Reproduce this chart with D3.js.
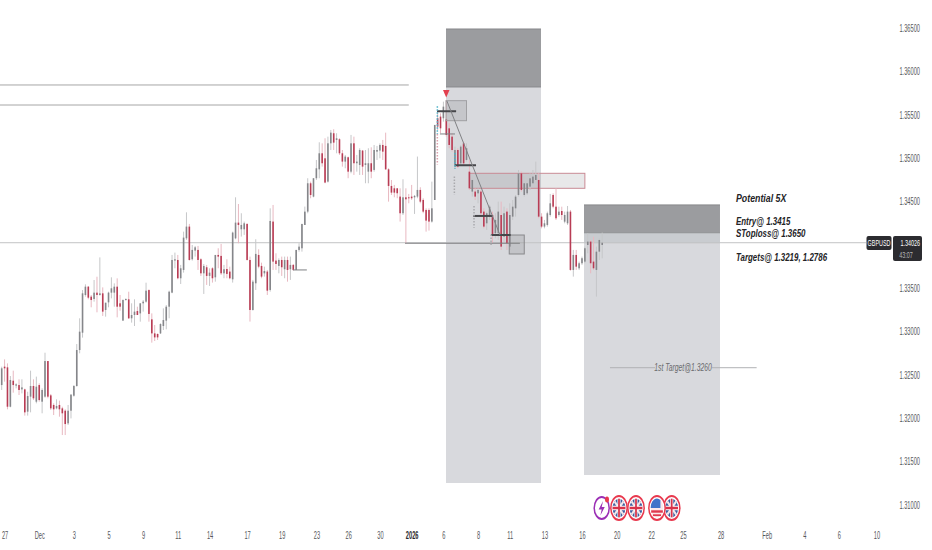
<!DOCTYPE html>
<html>
<head>
<meta charset="utf-8">
<script src="https://cdn.jsdelivr.net/npm/d3@7"></script>
<style>
  html, body { margin: 0; padding: 0; background: #fff; }
  svg { display: block; }
  text { font-family: "Liberation Sans", sans-serif; }
</style>
</head>
<body>
<div id="chart"></div>
<script>
// GBPUSD candles (one bar per array slot)
const opens = [
1.32384,1.32596,1.32588,1.32134,1.32434,1.32377,1.32384,1.32334,1.32334,1.32077,
1.32250,1.32373,1.32192,1.32384,1.32192,1.32250,1.32661,1.32265,1.32154,1.32115,
1.32154,1.32115,1.32088,1.31942,1.32088,1.32261,1.32373,1.32788,1.32988,1.33423,
1.33519,1.33404,1.33377,1.33450,1.33423,1.33442,1.33250,1.33338,1.33450,1.33450,
1.33519,1.33327,1.33127,1.33365,1.33373,1.33154,1.33192,1.33238,1.33211,1.33327,
1.33346,1.33480,1.33142,1.32980,1.32973,1.32980,1.33065,1.33127,1.33288,1.33450,
1.33820,1.33827,1.33616,1.33712,1.34077,1.34212,1.33835,1.33935,1.33943,1.33835,
1.33673,1.33743,1.33643,1.33731,1.33627,1.33885,1.33874,1.33673,1.33723,1.33693,
1.33604,1.34077,1.34258,1.34181,1.34181,1.34243,1.33827,1.33250,1.33558,1.33885,
1.33758,1.33673,1.33693,1.33481,1.34270,1.33820,1.33758,1.33827,1.33720,1.33827,
1.33720,1.33770,1.33712,1.33943,1.33962,1.34231,1.34385,1.34712,1.34558,1.34770,
1.34873,1.35058,1.35000,1.34731,1.35173,1.35289,1.35212,1.35220,1.35058,1.34962,
1.35012,1.34846,1.35173,1.34943,1.34923,1.35089,1.34923,1.34846,1.34943,1.34866,
1.35077,1.35089,1.35154,1.35143,1.34873,1.34681,1.34654,1.34654,1.34558,1.34366,
1.34550,1.34550,1.34558,1.34550,1.34558,1.34635,1.34520,1.34404,1.34404,1.34270,
1.34519,1.35462,1.35481,1.35462,1.35450,1.35346,1.35250,1.34904,1.35096,1.34942,
1.35173,1.34981,1.34846,1.34616,1.34616,1.34596,1.34616,1.34385,1.34250,1.34327,
1.34346,1.34135,1.34135,1.34346,1.34096,1.34385,1.33981,1.34327,1.34423,1.34577,
1.34827,1.34577,1.34596,1.34673,1.34712,1.34750,1.34750,1.34327,1.34212,1.34231,
1.34346,1.34577,1.34442,1.34346,1.34392,1.34269,1.34250,1.34385,1.33712,1.33885,
1.33731,1.33789,1.33808,1.34000,1.34039,1.33808,1.33712,1.33923,1.34000];

const closes = [
1.32577,1.32577,1.32134,1.32442,1.32384,1.32392,1.32327,1.32357,1.32069,1.32257,
1.32373,1.32231,1.32365,1.32211,1.32327,1.32661,1.32250,1.32115,1.32104,1.32142,
1.32104,1.32058,1.31934,1.32088,1.32273,1.32373,1.32788,1.33000,1.33442,1.33519,
1.33392,1.33365,1.33450,1.33423,1.33442,1.33231,1.33334,1.33450,1.33500,1.33519,
1.33288,1.33288,1.33365,1.33377,1.33154,1.33192,1.33231,1.33192,1.33327,1.33346,
1.33473,1.33204,1.32980,1.32934,1.32934,1.33088,1.33134,1.33288,1.33461,1.33827,
1.33835,1.33616,1.33731,1.34085,1.34212,1.33827,1.33943,1.33973,1.33827,1.33673,
1.33758,1.33643,1.33681,1.33616,1.33885,1.33866,1.33673,1.33720,1.33666,1.33616,
1.34143,1.34258,1.34231,1.34231,1.34250,1.33827,1.33250,1.33577,1.33897,1.33750,
1.33635,1.33700,1.33473,1.34277,1.33808,1.33781,1.33827,1.33743,1.33827,1.33712,
1.33770,1.33712,1.33943,1.33981,1.34243,1.34385,1.34712,1.34577,1.34770,1.34885,
1.35058,1.34943,1.34720,1.35173,1.35296,1.35181,1.35231,1.35058,1.34962,1.35020,
1.34846,1.35173,1.34943,1.34962,1.35096,1.34904,1.34943,1.34943,1.34846,1.35096,
1.35096,1.35154,1.35077,1.34873,1.34681,1.34604,1.34604,1.34597,1.34366,1.34550,
1.34527,1.34539,1.34539,1.34566,1.34635,1.34500,1.34385,1.34281,1.34270,1.34423,
1.35385,1.35366,1.35346,1.35596,1.35269,1.35154,1.35096,1.35096,1.34904,1.35135,
1.34942,1.35116,1.34654,1.34750,1.34558,1.34635,1.34366,1.34212,1.34366,1.34442,
1.34116,1.34289,1.34385,1.33981,1.34366,1.34019,1.34346,1.34442,1.34558,1.34827,
1.34635,1.34712,1.34712,1.34769,1.34789,1.34808,1.34327,1.34212,1.34250,1.34366,
1.34481,1.34442,1.34308,1.34385,1.34346,1.34346,1.34385,1.33712,1.33885,1.33750,
1.33789,1.33847,1.33962,1.34039,1.33789,1.33731,1.33923,1.34058,1.34026];

const highs = [
1.32596,1.32680,1.32634,1.32488,1.32550,1.32404,1.32450,1.32450,1.32342,1.32307,
1.32550,1.32450,1.32481,1.32404,1.32346,1.32757,1.32661,1.32281,1.32173,1.32219,
1.32204,1.32134,1.32104,1.32154,1.32281,1.32384,1.32857,1.33154,1.33480,1.33546,
1.33527,1.33423,1.33596,1.33634,1.33857,1.33511,1.33334,1.33461,1.33627,1.33557,
1.33615,1.33423,1.33373,1.33384,1.33461,1.33327,1.33373,1.33288,1.33327,1.33365,
1.33565,1.33488,1.33211,1.33077,1.32980,1.33096,1.33269,1.33307,1.33473,1.33885,
1.33912,1.33885,1.33770,1.34154,1.34377,1.34243,1.34000,1.33989,1.33989,1.33847,
1.33781,1.33770,1.33731,1.33743,1.33885,1.33962,1.34012,1.33770,1.33835,1.33750,
1.34154,1.34550,1.34473,1.34366,1.34270,1.34250,1.33866,1.33597,1.34066,1.33950,
1.33796,1.33750,1.33712,1.34423,1.34462,1.33904,1.33846,1.33866,1.33866,1.33866,
1.33866,1.33781,1.33943,1.34020,1.34243,1.34443,1.34770,1.34731,1.34770,1.34981,
1.35185,1.35173,1.35231,1.35250,1.35327,1.35335,1.35289,1.35231,1.35096,1.35039,
1.35020,1.35270,1.35250,1.35039,1.35116,1.35096,1.35096,1.35116,1.35127,1.35154,
1.35143,1.35173,1.35212,1.35296,1.34885,1.34750,1.34693,1.34654,1.34654,1.34758,
1.34654,1.34589,1.34693,1.34577,1.35020,1.34666,1.34539,1.34423,1.34423,1.34731,
1.35385,1.35558,1.35519,1.35654,1.35673,1.35404,1.35289,1.35135,1.35116,1.35154,
1.35192,1.35173,1.34981,1.34789,1.34654,1.34654,1.34635,1.34423,1.34385,1.34462,
1.34385,1.34366,1.34500,1.34500,1.34442,1.34423,1.34481,1.34519,1.34577,1.34865,
1.34846,1.34789,1.34769,1.34827,1.34865,1.34962,1.34827,1.34366,1.34289,1.34385,
1.34589,1.34596,1.34654,1.34442,1.34442,1.34385,1.34450,1.34404,1.33943,1.33943,
1.33808,1.33866,1.33981,1.34135,1.34058,1.34096,1.33981,1.34077,1.34143];

const lows = [
1.32327,1.32423,1.32104,1.32127,1.32296,1.32346,1.32269,1.32288,1.32031,1.32031,
1.32069,1.32211,1.32173,1.32192,1.32058,1.32238,1.32231,1.32096,1.32038,1.32104,
1.32019,1.31807,1.31807,1.31923,1.31999,1.32250,1.32365,1.32750,1.32931,1.33404,
1.33373,1.33281,1.33346,1.33223,1.33415,1.33181,1.33173,1.33281,1.33384,1.33288,
1.33165,1.33242,1.33127,1.33357,1.33146,1.33104,1.33065,1.33192,1.33115,1.33231,
1.33334,1.33115,1.32873,1.32892,1.32904,1.32973,1.33019,1.33027,1.33154,1.33443,
1.33731,1.33604,1.33550,1.33681,1.34058,1.33820,1.33820,1.33866,1.33712,1.33643,
1.33435,1.33539,1.33527,1.33566,1.33577,1.33731,1.33654,1.33616,1.33616,1.33604,
1.33566,1.34066,1.34020,1.34097,1.34116,1.33820,1.33116,1.33243,1.33481,1.33731,
1.33616,1.33635,1.33423,1.33462,1.33712,1.33712,1.33673,1.33643,1.33616,1.33577,
1.33597,1.33704,1.33712,1.33923,1.33923,1.34231,1.34366,1.34539,1.34550,1.34750,
1.34770,1.34904,1.34712,1.34720,1.35096,1.35096,1.35058,1.35039,1.34904,1.34885,
1.34770,1.34827,1.34808,1.34846,1.34808,1.34808,1.34712,1.34712,1.34770,1.34846,
1.34981,1.35000,1.34981,1.34866,1.34500,1.34577,1.34550,1.34539,1.34270,1.34346,
1.34020,1.34481,1.34520,1.34358,1.34539,1.34481,1.34366,1.34154,1.34166,1.34258,
1.34519,1.35327,1.35289,1.35423,1.35250,1.35116,1.35077,1.34885,1.34885,1.34923,
1.34923,1.34962,1.34635,1.34558,1.34519,1.34481,1.34327,1.34192,1.34173,1.34289,
1.34019,1.34077,1.34058,1.33942,1.34019,1.33942,1.33942,1.34289,1.34327,1.34558,
1.34616,1.34558,1.34577,1.34635,1.34673,1.34712,1.34308,1.34192,1.34192,1.34212,
1.34327,1.34423,1.34289,1.34327,1.34289,1.34250,1.34231,1.33704,1.33635,1.33712,
1.33712,1.33770,1.33789,1.33904,1.33673,1.33712,1.33404,1.33827,1.33846];

// axis labels
const priceTicks = [1.31,1.315,1.32,1.325,1.33,1.335,1.345,1.35,1.355,1.36,1.365];
const timeTickBars = [1,13,25,37,49,61,72,85,97,109,120,131,142,153,165,176,188,201,213,225,236,249,265,278,290,303];
const timeTickLabels = ['27','Dec','3','5','9','11','14','17','19','23','26','30','2026','6','8','11','13','16','20','22','25','28','Feb','4','6','10'];

// drawn objects, as [barFrom, barTo, priceTop, priceBottom]
const stopZones = [[153.9,186.8,1.36492,1.35823],[201.7,248.8,1.34462,1.34135]];
const targetZones = [[153.9,186.8,1.35823,1.31254],[201.7,248.8,1.34135,1.31346]];
const entryBand = [201.7,248.8,1.34135,1.3402];
const boxA = [153.9,161,1.35665,1.35434];
const boxB = [175.8,181,1.34115,1.33896];
const boxC = [162,202,1.34827,1.34654];
// [barFrom, barTo, price]
const topLevels = [[-1,141,1.35846],[-1,141,1.35615]];
const heavyLevels = [[150.8,157.4,1.35543],[157,164.3,1.3492],[163.3,170.1,1.34335],[169.5,176.3,1.34115]];
const thinLevels = [[139.7,179.5,1.3402],[100.9,105.7,1.33712],[151.8,157,1.35281]];
const targetLevels = [[210.7,226.3,1.32584],[246,261.5,1.32584]];
// [bar, priceTop, priceBottom, colour]
const dottedMarks = [
  [150.9,1.35600,1.35280,'#4fb3c8'],
  [150.9,1.35280,1.34930,'#d9a0ac'],
  [157,1.35060,1.34880,'#4fb3c8'],
  [156.8,1.34790,1.34580,'#a9a9ad'],
  [163.6,1.34450,1.34200,'#a9a9ad'],
  [169.5,1.34120,1.34000,'#a9a9ad']
];
const lastPrice = 1.34026;

const width = 932;
const height = 550;
// the reference text is narrow, squeeze the glyphs sideways
const narrow = 'scale(0.57,1)';

const x = d3.scaleLinear().domain([0, 300]).range([1.7, 867.8]);
const y = d3.scaleLinear().domain([1.31, 1.365]).range([505, 28.3]);

const svg = d3.select('#chart').append('svg')
  .attr('width', width)
  .attr('height', height)
  .attr('viewBox', [0, 0, width, height]);

function addRect(r, fill, stroke) {
  return svg.append('rect')
    .attr('x', x(r[0]))
    .attr('y', y(r[2]))
    .attr('width', x(r[1]) - x(r[0]))
    .attr('height', y(r[3]) - y(r[2]))
    .attr('fill', fill)
    .attr('stroke', stroke || 'none');
}

function addLevels(levels, color, w) {
  svg.append('g').selectAll('line').data(levels).join('line')
    .attr('x1', d => x(d[0]))
    .attr('x2', d => x(d[1]))
    .attr('y1', d => y(d[2]))
    .attr('y2', d => y(d[2]))
    .attr('stroke', color)
    .attr('stroke-width', w);
}

function addLabel(px, py, anchor, size, color, label) {
  svg.append('text')
    .attr('transform', `translate(${px},${py}) ${narrow}`)
    .attr('text-anchor', anchor)
    .attr('font-size', size)
    .attr('fill', color)
    .text(label);
}

// Zones behind the candles
targetZones.forEach(z => addRect(z, '#d8d9dd'));
stopZones.forEach(z => {
  addRect(z, '#9b9c9f');
  addLevels([[z[0], z[1], z[2]], [z[0], z[1], z[3]]], '#88898c', 1);
});
addRect(entryBand, '#c9ccd0');
addRect(boxC, 'rgba(120,120,125,0.17)', '#c98a94');

addLevels(topLevels, '#a6a6a6', 1);

// Price line
svg.append('line')
  .attr('x1', 0).attr('x2', 866)
  .attr('y1', y(lastPrice)).attr('y2', y(lastPrice))
  .attr('stroke', '#c2c3c5').attr('stroke-width', 1);

// Candles
const bars = opens.map((o, i) => ({ i, o, c: closes[i], h: highs[i], l: lows[i] }));
const candle = svg.append('g').selectAll('g').data(bars).join('g');

candle.append('line')
  .attr('x1', d => x(d.i)).attr('x2', d => x(d.i))
  .attr('y1', d => y(d.h)).attr('y2', d => y(d.l))
  .attr('stroke', d => d.c >= d.o ? '#c6c7c9' : '#e8b8c1')
  .attr('stroke-width', 1);

candle.append('rect')
  .attr('x', d => x(d.i) - 0.8)
  .attr('width', 1.6)
  .attr('y', d => y(Math.max(d.o, d.c)))
  .attr('height', d => Math.max(1, Math.abs(y(d.o) - y(d.c))))
  .attr('fill', d => d.c >= d.o ? '#85868a' : '#b83c54');

// Marks on top of the candles
addRect(boxA, 'rgba(125,125,128,0.2)', '#a0a0a3');
addRect(boxB, 'rgba(125,125,128,0.22)', '#88888b');
addLevels(thinLevels, '#7e7f82', 1);
addLevels(heavyLevels, '#46464a', 2);

svg.append('g').selectAll('line').data(dottedMarks).join('line')
  .attr('x1', d => x(d[0])).attr('x2', d => x(d[0]))
  .attr('y1', d => y(d[1])).attr('y2', d => y(d[2]))
  .attr('stroke', d => d[3])
  .attr('stroke-width', 1.5)
  .attr('stroke-dasharray', '1.5 1.5');

// Trend line from the entry marker
svg.append('line')
  .attr('x1', x(154.2)).attr('y1', y(1.35662))
  .attr('x2', x(172.6)).attr('y2', y(1.34115))
  .attr('stroke', '#808184').attr('stroke-width', 1);

// Red marker
svg.append('path')
  .attr('d', d3.line()([[443, 90], [449.5, 90], [446.2, 97.5]]) + 'Z')
  .attr('fill', '#e2404f');

// First target
addLevels(targetLevels, '#b0b1b4', 1);
svg.append('text')
  .attr('transform', `translate(${x(236)},${y(1.32584) + 3.5}) scale(0.68,1)`)
  .attr('text-anchor', 'middle')
  .attr('font-size', 10)
  .attr('font-style', 'italic')
  .attr('fill', '#6a6b6e')
  .text('1st Target@1.3260');

// Notes, [text, baseline, sideways scale]
const noteLines = [
  ['Potential 5X', 202, 0.8],
  ['Entry@ 1.3415', 225, 0.72],
  ['SToploss@ 1.3650', 236.5, 0.72],
  ['Targets@ 1.3219, 1.2786', 261, 0.72]
];
svg.append('g').selectAll('text').data(noteLines).join('text')
  .attr('transform', d => `translate(736,${d[1]}) scale(${d[2]},1)`)
  .attr('font-size', 11)
  .attr('font-weight', 'bold')
  .attr('font-style', 'italic')
  .attr('fill', '#232326')
  .text(d => d[0]);

// Axes
const yAxis = svg.append('g')
  .attr('transform', 'translate(920,0)')
  .call(d3.axisRight(y).tickValues(priceTicks).tickFormat(d3.format('.5f')).tickSize(0).tickPadding(0));
yAxis.select('.domain').remove();
yAxis.selectAll('text')
  .attr('text-anchor', 'end')
  .attr('font-size', 10)
  .attr('fill', '#55565a')
  .attr('transform', narrow)
  .style('font-family', '"Liberation Sans", sans-serif');

const xAxis = svg.append('g')
  .attr('transform', 'translate(0,532)')
  .call(d3.axisBottom(x).tickValues(timeTickBars)
    .tickFormat((d, i) => timeTickLabels[i]).tickSize(0).tickPadding(0));
xAxis.select('.domain').remove();
xAxis.selectAll('text')
  .attr('font-size', 10)
  .attr('fill', (d, i) => timeTickLabels[i] === '2026' ? '#2a2a2e' : '#55565a')
  .attr('font-weight', (d, i) => timeTickLabels[i] === '2026' ? 'bold' : 'normal')
  .attr('transform', narrow)
  .style('font-family', '"Liberation Sans", sans-serif');

// Symbol and price tags
svg.append('rect').attr('x', 866.5).attr('y', 236).attr('width', 25).attr('height', 14).attr('rx', 2).attr('fill', '#2c2c30');
svg.append('rect').attr('x', 893).attr('y', 236).attr('width', 29).attr('height', 25).attr('rx', 2).attr('fill', '#2c2c30');
addLabel(879, 246, 'middle', 9.5, '#fff', 'GBPUSD');
addLabel(920, 245.5, 'end', 9.5, '#fff', d3.format('.5f')(lastPrice));
addLabel(906, 258, 'middle', 9.5, '#b8b8bb', '43:07');

// Event icons under the chart
const iconY = 508;
function iconGroup(cx) {
  return svg.append('g').attr('transform', `translate(${cx},${iconY}) scale(0.68,1)`);
}

function ukFlag(cx) {
  const g = iconGroup(cx);
  g.append('circle').attr('r', 12).attr('fill', '#fff').attr('stroke', '#e8394e').attr('stroke-width', 2.2);
  g.append('circle').attr('r', 9.3).attr('fill', '#3f5f9f');
  g.append('path').attr('d', 'M-6.5,-6.5L6.5,6.5M6.5,-6.5L-6.5,6.5').attr('stroke', '#f3e6e8').attr('stroke-width', 2.6);
  g.append('path').attr('d', 'M0,-9.3V9.3M-9.3,0H9.3').attr('stroke', '#fff').attr('stroke-width', 4.6);
  g.append('path').attr('d', 'M0,-9.3V9.3M-9.3,0H9.3').attr('stroke', '#d8334a').attr('stroke-width', 2.6);
}

function usFlag(cx) {
  const g = iconGroup(cx);
  g.append('circle').attr('r', 12).attr('fill', '#fff').attr('stroke', '#e8394e').attr('stroke-width', 2.2);
  g.append('circle').attr('r', 9.3).attr('fill', '#fbe9ea');
  g.append('path').attr('d', 'M-8.6,3.5H8.6').attr('stroke', '#e0394e').attr('stroke-width', 2.4);
  g.append('path').attr('d', 'M-6,7.2H6').attr('stroke', '#e0394e').attr('stroke-width', 1.8);
  g.append('path').attr('d', 'M-9.3,0A9.3,9.3,0,0,1,5,-8L5,0Z').attr('fill', '#3f74c9');
}

// Lightning icon
const bolt = iconGroup(601.7);
bolt.append('circle').attr('r', 11).attr('fill', '#fff').attr('stroke', '#9b2fb5').attr('stroke-width', 2.2);
bolt.append('path').attr('d', 'M2,-7L-4.5,1.5H0L-2,7.5L4.5,-1H0Z').attr('fill', '#9b2fb5');
svg.append('ellipse').attr('cx', 607).attr('cy', 499.5).attr('rx', 2).attr('ry', 3).attr('fill', '#e8394e');

ukFlag(619);
ukFlag(636);
ukFlag(671.7);
usFlag(657);
</script>
</body>
</html>
